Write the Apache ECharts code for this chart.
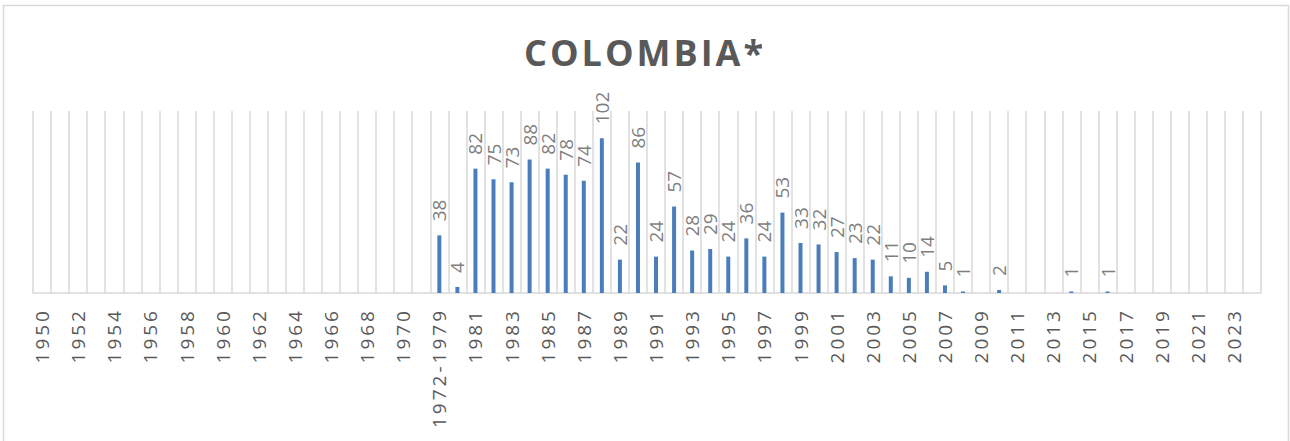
<!DOCTYPE html>
<html>
<head>
<meta charset="utf-8">
<script src="https://cdn.jsdelivr.net/npm/echarts@6/dist/echarts.min.js"></script>
<style>
html,body{margin:0;padding:0;background:#fff;}
#c{width:1290px;height:441px;}
</style>
</head>
<body>
<div id="c"></div>
<script>
const titleText = 'COLOMBIA*';
const categories = [
  '1950','1951','1952','1953','1954','1955','1956','1957','1958','1959',
  '1960','1961','1962','1963','1964','1965','1966','1967','1968','1969',
  '1970','1971','1972-1979',
  '1980','1981','1982','1983','1984','1985','1986','1987','1988','1989',
  '1990','1991','1992','1993','1994','1995','1996','1997','1998','1999',
  '2000','2001','2002','2003','2004','2005','2006','2007','2008','2009',
  '2010','2011','2012','2013','2014','2015','2016','2017','2018','2019',
  '2020','2021','2022','2023','2024'
];
const values = [
  null,null,null,null,null,null,null,null,null,null,
  null,null,null,null,null,null,null,null,null,null,
  null,null,38,
  4,82,75,73,88,82,78,74,102,22,
  86,24,57,28,29,24,36,24,53,33,
  32,27,23,22,11,10,14,5,1,null,
  2,null,null,null,1,null,1,null,null,null,
  null,null,null,null,null
];
const yMax = 120;

const dom = document.getElementById('c');
const chart = echarts.init(dom, null, {renderer: 'svg'});
chart.on('finished', function () {
  dom.querySelectorAll('text').forEach(function (t) {
    const s = t.textContent;
    if (/^\d{4}(-\d{4})?$/.test(s)) t.setAttribute('letter-spacing', '3');
    else if (s === titleText) t.setAttribute('letter-spacing', '3');
  });
});
chart.setOption({
  animation: false,
  backgroundColor: '#ffffff',
  title: {
    text: titleText,
    left: 'center',
    top: 34,
    padding: 0,
    textStyle: {fontFamily: 'Open Sans', fontWeight: 'bold', fontSize: 36, color: '#595959'}
  },
  graphic: [{
    type: 'rect',
    shape: {x: 3.5, y: 5.5, width: 1285, height: 460},
    style: {fill: 'none', stroke: '#d9d9d9', lineWidth: 1.5},
    silent: true, z: -1
  }],
  grid: {left: 33, right: 29, top: 111, bottom: 148},
  xAxis: {
    type: 'category',
    data: categories,
    boundaryGap: true,
    axisLine: {show: true, lineStyle: {color: '#d9d9d9', width: 1.5}},
    axisTick: {show: false},
    splitLine: {show: true, interval: 0, lineStyle: {color: '#d9d9d9', width: 1.5}},
    axisLabel: {
      interval: 1,
      rotate: 90,
      margin: 15,
      fontFamily: 'Open Sans',
      fontSize: 19,
      color: '#595959'
    }
  },
  yAxis: {
    type: 'value',
    min: 0,
    max: yMax,
    show: false,
    splitLine: {show: false}
  },
  series: [{
    type: 'bar',
    data: values,
    barWidth: 4,
    itemStyle: {color: '#4a7ebb'},
    label: {
      show: true,
      position: 'top',
      rotate: 90,
      align: 'left',
      verticalAlign: 'middle',
      distance: 14,
      fontFamily: 'Open Sans',
      fontSize: 19,
      color: '#7f7f7f'
    }
  }]
});
</script>
</body>
</html>
